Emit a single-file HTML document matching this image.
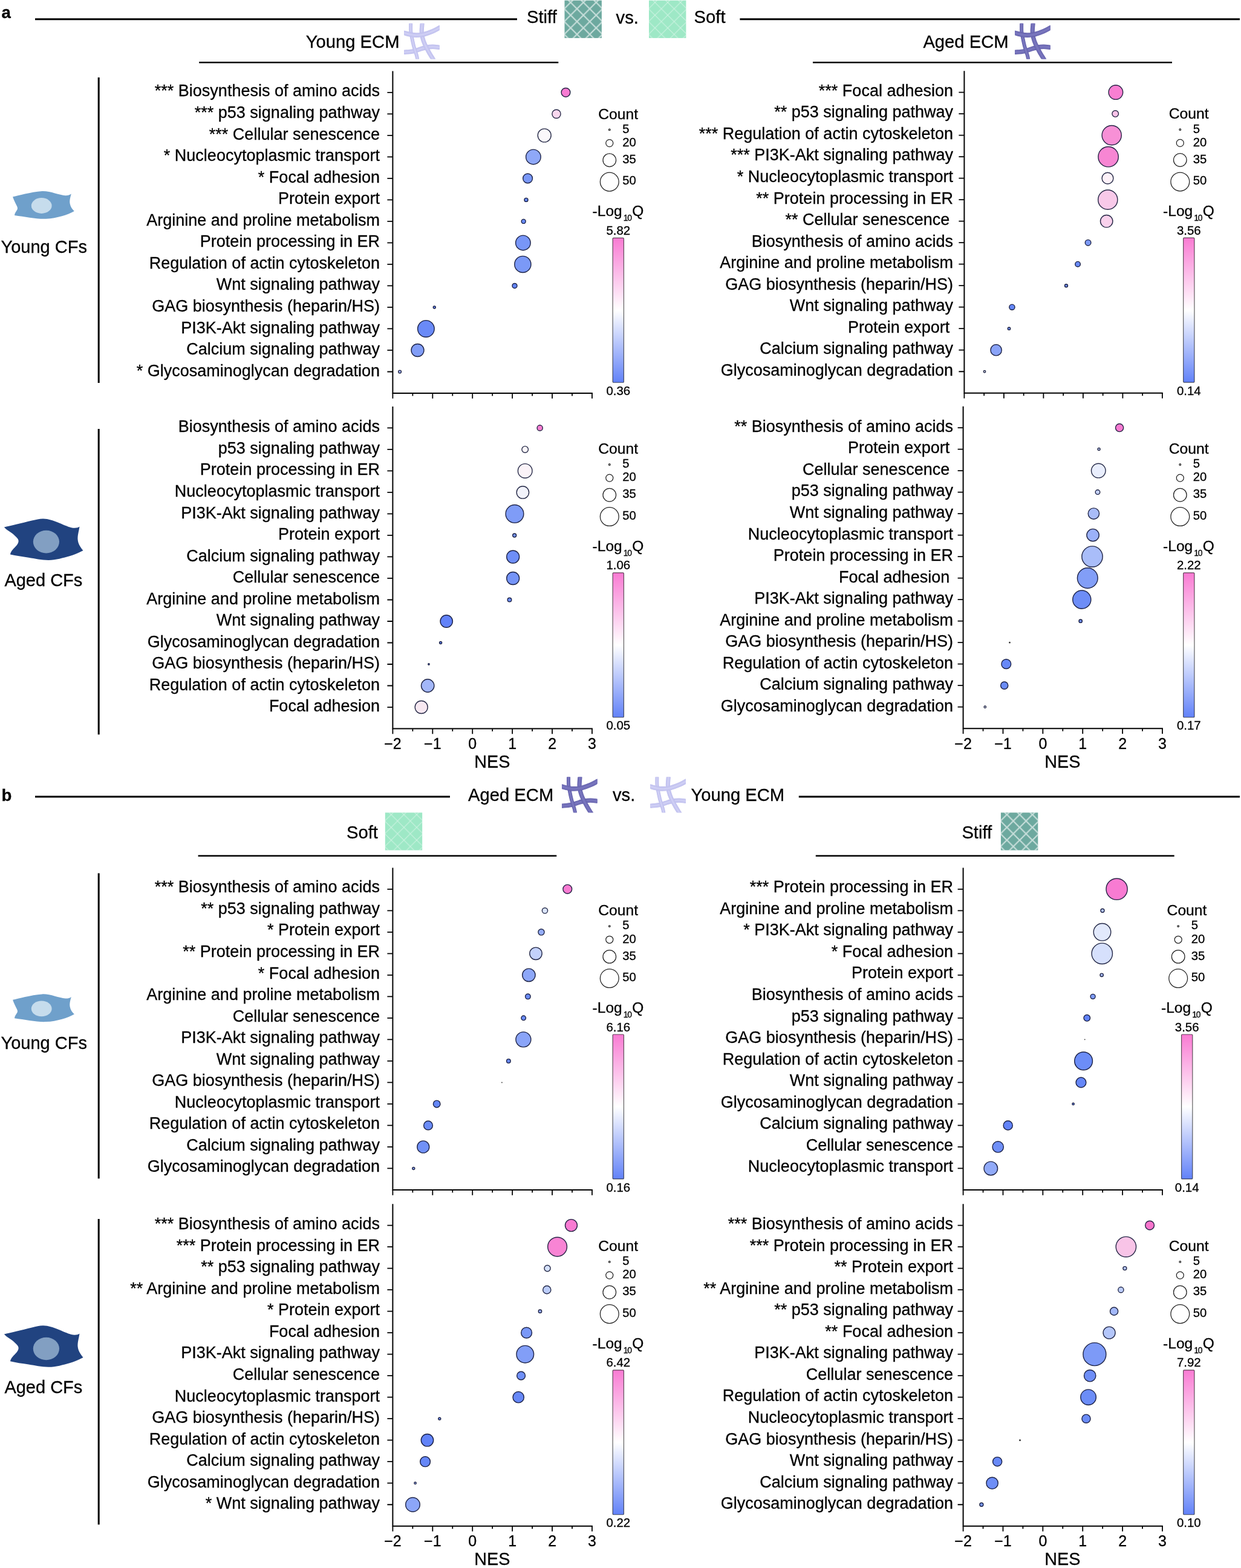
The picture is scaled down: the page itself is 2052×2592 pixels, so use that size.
<!DOCTYPE html>
<html lang="en"><head><meta charset="utf-8"><title>KEGG pathway enrichment bubble plots</title>
<style>html,body{margin:0;padding:0;background:#fff}body{width:2052px;height:2592px;overflow:hidden}svg{display:block}text{font-family:"Liberation Sans", Arial, Helvetica, sans-serif;fill:#000;stroke:#000;stroke-width:0.3px}</style></head><body>
<svg xmlns="http://www.w3.org/2000/svg" width="2052" height="2592" viewBox="0 0 2052 2592">
<defs>
<linearGradient id="cb" x1="0" y1="0" x2="0" y2="1"><stop offset="0" stop-color="#f97bd3"/><stop offset="0.5" stop-color="#ffffff"/><stop offset="1" stop-color="#6282f8"/></linearGradient>
<pattern id="hstiff" width="21.1" height="21.1" patternUnits="userSpaceOnUse" patternTransform="translate(10 3.3)"><path d="M21.1 0L0 21.1M-1 1L1 -1M20.1 22.1L22.1 20.1M0 0L21.1 21.1M-1 20.1L1 22.1M20.1 -1L22.1 1" stroke="#fff" stroke-opacity="0.62" stroke-width="2.2" fill="none"/></pattern>
<pattern id="hsoft" width="21.1" height="21.1" patternUnits="userSpaceOnUse" patternTransform="translate(10 3.3)"><path d="M21.1 0L0 21.1M-1 1L1 -1M20.1 22.1L22.1 20.1M0 0L21.1 21.1M-1 20.1L1 22.1M20.1 -1L22.1 1" stroke="#fff" stroke-opacity="0.5" stroke-width="1.0" fill="none"/></pattern>
</defs>
<rect width="2052" height="2592" fill="#fff"/>
<g id="section-a">
<text x="2.4" y="30.4" font-size="27.6" font-weight="bold" stroke="none">a</text>
<g stroke="#000">
<line x1="58" y1="31.75" x2="855" y2="31.75" stroke-width="3.2"/>
<line x1="1223.4" y1="31.75" x2="2050" y2="31.75" stroke-width="3.2"/>
<line x1="329.2" y1="103.3" x2="923.3" y2="103.3" stroke-width="2.6"/>
<line x1="1344" y1="103.3" x2="1938" y2="103.3" stroke-width="2.6"/>
<line x1="163.2" y1="128" x2="163.2" y2="633" stroke-width="3"/>
<line x1="163.2" y1="709.1" x2="163.2" y2="1214.3" stroke-width="3"/>
</g>
<text x="871" y="38.4" font-size="29.2">Stiff</text>
<g transform="translate(933.5 0.7)"><rect width="61.4" height="62.2" fill="#6da99f"/><rect width="61.4" height="62.2" fill="url(#hstiff)"/></g>
<text x="1018.6" y="38.9" font-size="29.2">vs.</text>
<g transform="translate(1073 0.7)"><rect width="61.4" height="62.2" fill="#9ee8c6"/><rect width="61.4" height="62.2" fill="url(#hsoft)"/></g>
<text x="1147.6" y="38.4" font-size="29.2">Soft</text>
<text x="505.8" y="79.4" font-size="29.2">Young ECM</text>
<g transform="translate(0 0)" fill="none">
<clipPath id="ec1"><rect x="668.1" y="38.7" width="58.6" height="58.7"/></clipPath>
<g clip-path="url(#ec1)">
<path d="M664.12 86.7C664.78 86.63 664.94 86.62 668.1 86.3C671.26 85.98 678.25 85.78 683.1 84.8C687.95 83.82 693.3 81.53 697.2 80.4C701.1 79.27 703.38 78.52 706.5 78C709.62 77.48 712.53 77.25 715.9 77.3C719.27 77.35 724.24 78.07 726.7 78.3C729.16 78.53 730.02 78.61 730.68 78.67" stroke="#bdbdec" stroke-width="7.4"/>
<path d="M664.12 86.7C664.78 86.63 664.94 86.62 668.1 86.3C671.26 85.98 678.25 85.78 683.1 84.8C687.95 83.82 693.3 81.53 697.2 80.4C701.1 79.27 703.38 78.52 706.5 78C709.62 77.48 712.53 77.25 715.9 77.3C719.27 77.35 724.24 78.07 726.7 78.3C729.16 78.53 730.02 78.61 730.68 78.67" stroke="#c6c6f1" stroke-width="6.2"/>
<path d="M664.12 86.7C664.78 86.63 664.94 86.62 668.1 86.3C671.26 85.98 678.25 85.78 683.1 84.8C687.95 83.82 693.3 81.53 697.2 80.4C701.1 79.27 703.38 78.52 706.5 78C709.62 77.48 712.53 77.25 715.9 77.3C719.27 77.35 724.24 78.07 726.7 78.3C729.16 78.53 730.02 78.61 730.68 78.67" stroke="#d3d3f6" stroke-width="1.4"/>
<path d="M679.17 34.7C679.17 35.37 679.18 35.82 679.2 38.7C679.22 41.58 678.97 47.98 679.3 52C679.63 56.02 680.37 58.67 681.2 62.8C682.03 66.93 683.05 72.12 684.3 76.8C685.55 81.48 687.73 87.47 688.7 90.9C689.67 94.33 689.73 95.66 690.1 97.4C690.47 99.14 690.8 100.66 690.94 101.31" stroke="#bdbdec" stroke-width="6"/>
<path d="M679.17 34.7C679.17 35.37 679.18 35.82 679.2 38.7C679.22 41.58 678.97 47.98 679.3 52C679.63 56.02 680.37 58.67 681.2 62.8C682.03 66.93 683.05 72.12 684.3 76.8C685.55 81.48 687.73 87.47 688.7 90.9C689.67 94.33 689.73 95.66 690.1 97.4C690.47 99.14 690.8 100.66 690.94 101.31" stroke="#c6c6f1" stroke-width="4.8"/>
<path d="M679.17 34.7C679.17 35.37 679.18 35.82 679.2 38.7C679.22 41.58 678.97 47.98 679.3 52C679.63 56.02 680.37 58.67 681.2 62.8C682.03 66.93 683.05 72.12 684.3 76.8C685.55 81.48 687.73 87.47 688.7 90.9C689.67 94.33 689.73 95.66 690.1 97.4C690.47 99.14 690.8 100.66 690.94 101.31" stroke="#d3d3f6" stroke-width="1.4"/>
<path d="M698.36 34.71C698.32 35.37 698.29 35.73 698.1 38.7C697.91 41.67 697.08 48.48 697.2 52.5C697.32 56.52 697.92 59.33 698.8 62.8C699.68 66.27 700.78 69.4 702.5 73.3C704.22 77.2 706.87 82.18 709.1 86.2C711.33 90.22 714.42 94.96 715.9 97.4C717.38 99.84 717.63 100.25 717.98 100.82" stroke="#bdbdec" stroke-width="7.2"/>
<path d="M698.36 34.71C698.32 35.37 698.29 35.73 698.1 38.7C697.91 41.67 697.08 48.48 697.2 52.5C697.32 56.52 697.92 59.33 698.8 62.8C699.68 66.27 700.78 69.4 702.5 73.3C704.22 77.2 706.87 82.18 709.1 86.2C711.33 90.22 714.42 94.96 715.9 97.4C717.38 99.84 717.63 100.25 717.98 100.82" stroke="#c6c6f1" stroke-width="6"/>
<path d="M698.36 34.71C698.32 35.37 698.29 35.73 698.1 38.7C697.91 41.67 697.08 48.48 697.2 52.5C697.32 56.52 697.92 59.33 698.8 62.8C699.68 66.27 700.78 69.4 702.5 73.3C704.22 77.2 706.87 82.18 709.1 86.2C711.33 90.22 714.42 94.96 715.9 97.4C717.38 99.84 717.63 100.25 717.98 100.82" stroke="#d3d3f6" stroke-width="1.4"/>
<path d="M664.21 53.45C664.86 53.61 665.27 53.71 668.1 54.4C670.93 55.09 677.13 57 681.2 57.6C685.27 58.2 689.07 58.18 692.5 58C695.93 57.82 697.9 57.58 701.8 56.5C705.7 55.42 711.75 53.27 715.9 51.5C720.05 49.73 724.31 47.14 726.7 45.9C729.09 44.66 729.66 44.37 730.25 44.06" stroke="#bdbdec" stroke-width="7.6"/>
<path d="M664.21 53.45C664.86 53.61 665.27 53.71 668.1 54.4C670.93 55.09 677.13 57 681.2 57.6C685.27 58.2 689.07 58.18 692.5 58C695.93 57.82 697.9 57.58 701.8 56.5C705.7 55.42 711.75 53.27 715.9 51.5C720.05 49.73 724.31 47.14 726.7 45.9C729.09 44.66 729.66 44.37 730.25 44.06" stroke="#c6c6f1" stroke-width="6.4"/>
<path d="M664.21 53.45C664.86 53.61 665.27 53.71 668.1 54.4C670.93 55.09 677.13 57 681.2 57.6C685.27 58.2 689.07 58.18 692.5 58C695.93 57.82 697.9 57.58 701.8 56.5C705.7 55.42 711.75 53.27 715.9 51.5C720.05 49.73 724.31 47.14 726.7 45.9C729.09 44.66 729.66 44.37 730.25 44.06" stroke="#d3d3f6" stroke-width="1.4"/>
</g></g>
<text x="1526.4" y="79.4" font-size="29.2">Aged ECM</text>
<g transform="translate(1010 0)" fill="none">
<clipPath id="ec2"><rect x="668.1" y="38.7" width="58.6" height="58.7"/></clipPath>
<g clip-path="url(#ec2)">
<path d="M664.12 86.7C664.78 86.63 664.94 86.62 668.1 86.3C671.26 85.98 678.25 85.78 683.1 84.8C687.95 83.82 693.3 81.53 697.2 80.4C701.1 79.27 703.38 78.52 706.5 78C709.62 77.48 712.53 77.25 715.9 77.3C719.27 77.35 724.24 78.07 726.7 78.3C729.16 78.53 730.02 78.61 730.68 78.67" stroke="#5d5aa6" stroke-width="7.4"/>
<path d="M664.12 86.7C664.78 86.63 664.94 86.62 668.1 86.3C671.26 85.98 678.25 85.78 683.1 84.8C687.95 83.82 693.3 81.53 697.2 80.4C701.1 79.27 703.38 78.52 706.5 78C709.62 77.48 712.53 77.25 715.9 77.3C719.27 77.35 724.24 78.07 726.7 78.3C729.16 78.53 730.02 78.61 730.68 78.67" stroke="#716eb7" stroke-width="6.2"/>
<path d="M664.12 86.7C664.78 86.63 664.94 86.62 668.1 86.3C671.26 85.98 678.25 85.78 683.1 84.8C687.95 83.82 693.3 81.53 697.2 80.4C701.1 79.27 703.38 78.52 706.5 78C709.62 77.48 712.53 77.25 715.9 77.3C719.27 77.35 724.24 78.07 726.7 78.3C729.16 78.53 730.02 78.61 730.68 78.67" stroke="#7d7ac2" stroke-width="1.4"/>
<path d="M679.17 34.7C679.17 35.37 679.18 35.82 679.2 38.7C679.22 41.58 678.97 47.98 679.3 52C679.63 56.02 680.37 58.67 681.2 62.8C682.03 66.93 683.05 72.12 684.3 76.8C685.55 81.48 687.73 87.47 688.7 90.9C689.67 94.33 689.73 95.66 690.1 97.4C690.47 99.14 690.8 100.66 690.94 101.31" stroke="#5d5aa6" stroke-width="6"/>
<path d="M679.17 34.7C679.17 35.37 679.18 35.82 679.2 38.7C679.22 41.58 678.97 47.98 679.3 52C679.63 56.02 680.37 58.67 681.2 62.8C682.03 66.93 683.05 72.12 684.3 76.8C685.55 81.48 687.73 87.47 688.7 90.9C689.67 94.33 689.73 95.66 690.1 97.4C690.47 99.14 690.8 100.66 690.94 101.31" stroke="#716eb7" stroke-width="4.8"/>
<path d="M679.17 34.7C679.17 35.37 679.18 35.82 679.2 38.7C679.22 41.58 678.97 47.98 679.3 52C679.63 56.02 680.37 58.67 681.2 62.8C682.03 66.93 683.05 72.12 684.3 76.8C685.55 81.48 687.73 87.47 688.7 90.9C689.67 94.33 689.73 95.66 690.1 97.4C690.47 99.14 690.8 100.66 690.94 101.31" stroke="#7d7ac2" stroke-width="1.4"/>
<path d="M698.36 34.71C698.32 35.37 698.29 35.73 698.1 38.7C697.91 41.67 697.08 48.48 697.2 52.5C697.32 56.52 697.92 59.33 698.8 62.8C699.68 66.27 700.78 69.4 702.5 73.3C704.22 77.2 706.87 82.18 709.1 86.2C711.33 90.22 714.42 94.96 715.9 97.4C717.38 99.84 717.63 100.25 717.98 100.82" stroke="#5d5aa6" stroke-width="7.2"/>
<path d="M698.36 34.71C698.32 35.37 698.29 35.73 698.1 38.7C697.91 41.67 697.08 48.48 697.2 52.5C697.32 56.52 697.92 59.33 698.8 62.8C699.68 66.27 700.78 69.4 702.5 73.3C704.22 77.2 706.87 82.18 709.1 86.2C711.33 90.22 714.42 94.96 715.9 97.4C717.38 99.84 717.63 100.25 717.98 100.82" stroke="#716eb7" stroke-width="6"/>
<path d="M698.36 34.71C698.32 35.37 698.29 35.73 698.1 38.7C697.91 41.67 697.08 48.48 697.2 52.5C697.32 56.52 697.92 59.33 698.8 62.8C699.68 66.27 700.78 69.4 702.5 73.3C704.22 77.2 706.87 82.18 709.1 86.2C711.33 90.22 714.42 94.96 715.9 97.4C717.38 99.84 717.63 100.25 717.98 100.82" stroke="#7d7ac2" stroke-width="1.4"/>
<path d="M664.21 53.45C664.86 53.61 665.27 53.71 668.1 54.4C670.93 55.09 677.13 57 681.2 57.6C685.27 58.2 689.07 58.18 692.5 58C695.93 57.82 697.9 57.58 701.8 56.5C705.7 55.42 711.75 53.27 715.9 51.5C720.05 49.73 724.31 47.14 726.7 45.9C729.09 44.66 729.66 44.37 730.25 44.06" stroke="#5d5aa6" stroke-width="7.6"/>
<path d="M664.21 53.45C664.86 53.61 665.27 53.71 668.1 54.4C670.93 55.09 677.13 57 681.2 57.6C685.27 58.2 689.07 58.18 692.5 58C695.93 57.82 697.9 57.58 701.8 56.5C705.7 55.42 711.75 53.27 715.9 51.5C720.05 49.73 724.31 47.14 726.7 45.9C729.09 44.66 729.66 44.37 730.25 44.06" stroke="#716eb7" stroke-width="6.4"/>
<path d="M664.21 53.45C664.86 53.61 665.27 53.71 668.1 54.4C670.93 55.09 677.13 57 681.2 57.6C685.27 58.2 689.07 58.18 692.5 58C695.93 57.82 697.9 57.58 701.8 56.5C705.7 55.42 711.75 53.27 715.9 51.5C720.05 49.73 724.31 47.14 726.7 45.9C729.09 44.66 729.66 44.37 730.25 44.06" stroke="#7d7ac2" stroke-width="1.4"/>
</g></g>
<g transform="translate(0 0)"><path d="M21.1 325.3 C30 323.5 50 317.5 69.6 316 C82 315.2 98 322.5 108 323.2 C112 323.4 115.5 322.3 117.8 320.5 C116.4 326 114.6 331 115.7 337 C116.6 342 119.5 346 122.8 349 C112 355 95 360.8 75.9 361.7 C60 362.3 42 358.3 24 355.9 C24.2 352 26.8 349.5 28.5 346.4 C29.6 344 28.6 342 27.6 340 C25.4 335.5 22.6 330.5 21.1 325.3Z" fill="#6fa0cb"/><ellipse cx="68.7" cy="340" rx="16.9" ry="12.9" fill="#c6dcec"/></g>
<text x="1.5" y="418" font-size="29">Young CFs</text>
<g transform="translate(0 0)"><path d="M6.9 871.6 C16 869.5 36 864.8 52.7 860.6 C60 858.7 66 857.2 71.7 857.4 C80 857.6 88 860.5 94.8 863.2 C103 866.5 112 870.6 118 872.2 C123 873.4 128.5 873 131.5 870.6 C130.6 878 127.6 886 128.8 893.7 C129.8 900.5 134 905.6 137.5 910.1 C129 914.5 122 917.5 115.9 919 C104 922.3 92 926 80.1 925.9 C68 925.8 58 923.3 47.4 921.7 C37 920.1 26 918.6 16.9 916.4 C17.4 913.5 19 910.8 21.1 908.5 C25 904.2 30.2 900 30.6 894.8 C30.9 890.8 26.5 887.5 23.2 884.3 C18.5 879.8 11 876.5 6.9 871.6Z" fill="#214380"/><ellipse cx="76.4" cy="895.6" rx="21.6" ry="18.8" fill="#829fc2"/></g>
<text x="7.4" y="968.8" font-size="29">Aged CFs</text>
</g>
<g id="panel1">
<g stroke="#000" fill="none" stroke-linecap="butt">
<path d="M649.4 117.55V649.95H979.9" stroke-width="2"/>
<path d="M649.4 152.85h-9.0M649.4 188.36h-9.0M649.4 223.87h-9.0M649.4 259.38h-9.0M649.4 294.89h-9.0M649.4 330.4h-9.0M649.4 365.91h-9.0M649.4 401.42h-9.0M649.4 436.93h-9.0M649.4 472.44h-9.0M649.4 507.95h-9.0M649.4 543.46h-9.0M649.4 578.97h-9.0M649.4 614.48h-9.0M649.4 649.95v8.8M715.32 649.95v8.8M781.24 649.95v8.8M847.16 649.95v8.8M913.08 649.95v8.8M979 649.95v8.8M682.36 649.95v4.6M748.28 649.95v4.6M814.2 649.95v4.6M880.12 649.95v4.6M946.04 649.95v4.6" stroke-width="1.8"/>
</g>
<g font-size="27" text-anchor="end">
<text x="628" y="159.45">*** Biosynthesis of amino acids</text>
<text x="628" y="195">*** p53 signaling pathway</text>
<text x="628" y="230.55">*** Cellular senescence</text>
<text x="628" y="266.1">* Nucleocytoplasmic transport</text>
<text x="628" y="301.65">* Focal adhesion</text>
<text x="628" y="337.2">Protein export</text>
<text x="628" y="372.75">Arginine and proline metabolism</text>
<text x="628" y="408.3">Protein processing in ER</text>
<text x="628" y="443.85">Regulation of actin cytoskeleton</text>
<text x="628" y="479.4">Wnt signaling pathway</text>
<text x="628" y="514.95">GAG biosynthesis (heparin/HS)</text>
<text x="628" y="550.5">PI3K-Akt signaling pathway</text>
<text x="628" y="586.05">Calcium signaling pathway</text>
<text x="628" y="621.6">* Glycosaminoglycan degradation</text>
</g>
<g stroke="#04082a" stroke-opacity="0.86" stroke-width="1.4">
<circle cx="935.5" cy="152.85" r="7.4" fill="#f87bd2"/>
<circle cx="920" cy="188.36" r="7.1" fill="#f9d7ee"/>
<circle cx="900.2" cy="223.87" r="11" fill="#fbf8fb"/>
<circle cx="881.9" cy="259.38" r="12.3" fill="#8fa8f8"/>
<circle cx="872.6" cy="294.89" r="7.9" fill="#7a98f7"/>
<circle cx="870" cy="330.4" r="3" fill="#6a8cf7"/>
<circle cx="865.7" cy="365.91" r="3.5" fill="#6a8cf7"/>
<circle cx="864.9" cy="401.42" r="12.3" fill="#7896f7"/>
<circle cx="864.4" cy="436.93" r="13.6" fill="#7b99f7"/>
<circle cx="851" cy="472.44" r="4" fill="#6485f7"/>
<circle cx="718.3" cy="507.95" r="2" fill="#6a8cf7"/>
<circle cx="704.4" cy="543.46" r="13.8" fill="#6a8af7"/>
<circle cx="690.5" cy="578.97" r="10.5" fill="#819df7"/>
<circle cx="661.1" cy="614.48" r="2.4" fill="#a9bbf9"/>
</g>
<text x="1022.1" y="196.6" font-size="24.7" text-anchor="middle">Count</text>
<g fill="#fff" stroke="#222" stroke-width="1.25">
<circle cx="1007.8" cy="214.4" r="1.35"/>
<circle cx="1007.8" cy="236.6" r="6"/>
<circle cx="1007.8" cy="264.7" r="10.8"/>
<circle cx="1007.8" cy="300.6" r="15.4"/>
</g>
<g font-size="20.3">
<text x="1029.3" y="219.7">5</text>
<text x="1029.3" y="241.9">20</text>
<text x="1029.3" y="269.9">35</text>
<text x="1029.3" y="305.3">50</text>
</g>
<text x="979.6" y="357.4" font-size="24.5">-Log<tspan font-size="14" dx="2.2" dy="7.8" letter-spacing="-1.3">10</tspan><tspan dx="1.5" dy="-7.8">Q</tspan></text>
<text x="1022.3" y="387.8" font-size="20.45" text-anchor="middle">5.82</text>
<rect x="1013.15" y="393.3" width="18.3" height="238.95" rx="1.3" fill="url(#cb)" stroke="#000" stroke-opacity="0.62" stroke-width="1.2"/>
<text x="1022.3" y="652.8" font-size="20.45" text-anchor="middle">0.36</text>
</g>
<g id="panel2">
<g stroke="#000" fill="none" stroke-linecap="butt">
<path d="M1594.4 117.3V649.7H1922.8" stroke-width="2"/>
<path d="M1594.4 152.6h-9.0M1594.4 188.11h-9.0M1594.4 223.62h-9.0M1594.4 259.13h-9.0M1594.4 294.64h-9.0M1594.4 330.15h-9.0M1594.4 365.66h-9.0M1594.4 401.17h-9.0M1594.4 436.68h-9.0M1594.4 472.19h-9.0M1594.4 507.7h-9.0M1594.4 543.21h-9.0M1594.4 578.72h-9.0M1594.4 614.23h-9.0M1594.4 649.7v8.8M1659.9 649.7v8.8M1725.4 649.7v8.8M1790.9 649.7v8.8M1856.4 649.7v8.8M1921.9 649.7v8.8M1627.15 649.7v4.6M1692.65 649.7v4.6M1758.15 649.7v4.6M1823.65 649.7v4.6M1889.15 649.7v4.6" stroke-width="1.8"/>
</g>
<g font-size="27" text-anchor="end">
<text x="1576" y="158.8">*** Focal adhesion</text>
<text x="1576" y="194.35">** p53 signaling pathway</text>
<text x="1576" y="229.9">*** Regulation of actin cytoskeleton</text>
<text x="1576" y="265.45">*** PI3K-Akt signaling pathway</text>
<text x="1576" y="301">* Nucleocytoplasmic transport</text>
<text x="1576" y="336.55">** Protein processing in ER</text>
<text x="1570.2" y="372.1">** Cellular senescence</text>
<text x="1576" y="407.65">Biosynthesis of amino acids</text>
<text x="1576" y="443.2">Arginine and proline metabolism</text>
<text x="1576" y="478.75">GAG biosynthesis (heparin/HS)</text>
<text x="1576" y="514.3">Wnt signaling pathway</text>
<text x="1570.2" y="549.85">Protein export</text>
<text x="1576" y="585.4">Calcium signaling pathway</text>
<text x="1576" y="620.95">Glycosaminoglycan degradation</text>
</g>
<g stroke="#04082a" stroke-opacity="0.86" stroke-width="1.4">
<circle cx="1844.9" cy="152.6" r="11.8" fill="#f87fd2"/>
<circle cx="1844.2" cy="188.11" r="5.3" fill="#f9c2e7"/>
<circle cx="1838.2" cy="223.62" r="16.1" fill="#f790d6"/>
<circle cx="1832.6" cy="259.13" r="16.7" fill="#f786d3"/>
<circle cx="1831.5" cy="294.64" r="9.4" fill="#fdf1f8"/>
<circle cx="1831.8" cy="330.15" r="16.1" fill="#f8c9e9"/>
<circle cx="1829.7" cy="365.66" r="10.2" fill="#f9d1ec"/>
<circle cx="1799.1" cy="401.17" r="4.8" fill="#7d9af7"/>
<circle cx="1782.1" cy="436.68" r="4.3" fill="#6a8bf7"/>
<circle cx="1763" cy="472.19" r="2.5" fill="#7795f7"/>
<circle cx="1673.4" cy="507.7" r="4.6" fill="#6587f7"/>
<circle cx="1668.5" cy="543.21" r="2.2" fill="#7c99f7"/>
<circle cx="1647.1" cy="578.72" r="9.2" fill="#8aa3f8"/>
<circle cx="1628" cy="614.23" r="1.7" fill="#e9eefd"/>
</g>
<text x="1965.6" y="196.4" font-size="24.7" text-anchor="middle">Count</text>
<g fill="#fff" stroke="#222" stroke-width="1.25">
<circle cx="1951.3" cy="214.2" r="1.35"/>
<circle cx="1951.3" cy="236.4" r="6"/>
<circle cx="1951.3" cy="264.5" r="10.8"/>
<circle cx="1951.3" cy="300.4" r="15.4"/>
</g>
<g font-size="20.3">
<text x="1972.8" y="219.5">5</text>
<text x="1972.8" y="241.7">20</text>
<text x="1972.8" y="269.7">35</text>
<text x="1972.8" y="305.1">50</text>
</g>
<text x="1923.1" y="357.2" font-size="24.5">-Log<tspan font-size="14" dx="2.2" dy="7.8" letter-spacing="-1.3">10</tspan><tspan dx="1.5" dy="-7.8">Q</tspan></text>
<text x="1965.8" y="387.6" font-size="20.45" text-anchor="middle">3.56</text>
<rect x="1956.65" y="393.1" width="18.3" height="238.95" rx="1.3" fill="url(#cb)" stroke="#000" stroke-opacity="0.62" stroke-width="1.2"/>
<text x="1965.8" y="652.6" font-size="20.45" text-anchor="middle">0.14</text>
</g>
<g id="panel3">
<g stroke="#000" fill="none" stroke-linecap="butt">
<path d="M649.4 672.1V1204.5H979.9" stroke-width="2"/>
<path d="M649.4 707.4h-9.0M649.4 742.91h-9.0M649.4 778.42h-9.0M649.4 813.93h-9.0M649.4 849.44h-9.0M649.4 884.95h-9.0M649.4 920.46h-9.0M649.4 955.97h-9.0M649.4 991.48h-9.0M649.4 1026.99h-9.0M649.4 1062.5h-9.0M649.4 1098.01h-9.0M649.4 1133.52h-9.0M649.4 1169.03h-9.0M649.4 1204.5v8.8M715.32 1204.5v8.8M781.24 1204.5v8.8M847.16 1204.5v8.8M913.08 1204.5v8.8M979 1204.5v8.8M682.36 1204.5v4.6M748.28 1204.5v4.6M814.2 1204.5v4.6M880.12 1204.5v4.6M946.04 1204.5v4.6" stroke-width="1.8"/>
</g>
<g font-size="27" text-anchor="end">
<text x="628" y="714.3">Biosynthesis of amino acids</text>
<text x="628" y="749.85">p53 signaling pathway</text>
<text x="628" y="785.4">Protein processing in ER</text>
<text x="628" y="820.95">Nucleocytoplasmic transport</text>
<text x="628" y="856.5">PI3K-Akt signaling pathway</text>
<text x="628" y="892.05">Protein export</text>
<text x="628" y="927.6">Calcium signaling pathway</text>
<text x="628" y="963.15">Cellular senescence</text>
<text x="628" y="998.7">Arginine and proline metabolism</text>
<text x="628" y="1034.25">Wnt signaling pathway</text>
<text x="628" y="1069.8">Glycosaminoglycan degradation</text>
<text x="628" y="1105.35">GAG biosynthesis (heparin/HS)</text>
<text x="628" y="1140.9">Regulation of actin cytoskeleton</text>
<text x="628" y="1176.45">Focal adhesion</text>
</g>
<g stroke="#04082a" stroke-opacity="0.86" stroke-width="1.4">
<circle cx="892.7" cy="707.4" r="4.6" fill="#f87fd2"/>
<circle cx="868.2" cy="742.91" r="5.3" fill="#fcf7fa"/>
<circle cx="868.2" cy="778.42" r="11.8" fill="#fbf3f8"/>
<circle cx="864.4" cy="813.93" r="10.2" fill="#f2f3fb"/>
<circle cx="851" cy="849.44" r="14.9" fill="#7f9cf7"/>
<circle cx="850.7" cy="884.95" r="3" fill="#7896f7"/>
<circle cx="848.2" cy="920.46" r="10.5" fill="#6e8ef7"/>
<circle cx="848.2" cy="955.97" r="10.5" fill="#7594f7"/>
<circle cx="842.5" cy="991.48" r="3.3" fill="#6e8ef7"/>
<circle cx="738.2" cy="1026.99" r="10.2" fill="#6282f8"/>
<circle cx="728.6" cy="1062.5" r="2" fill="#6a8bf7"/>
<circle cx="709" cy="1098.01" r="1.2" fill="#7a98f7"/>
<circle cx="707.2" cy="1133.52" r="10.7" fill="#a3b7f9"/>
<circle cx="696.7" cy="1169.03" r="10.5" fill="#f7e8f1"/>
</g>
<text x="1022.1" y="750.1" font-size="24.7" text-anchor="middle">Count</text>
<g fill="#fff" stroke="#222" stroke-width="1.25">
<circle cx="1007.8" cy="767.9" r="1.35"/>
<circle cx="1007.8" cy="790.1" r="6"/>
<circle cx="1007.8" cy="818.2" r="10.8"/>
<circle cx="1007.8" cy="854.1" r="15.4"/>
</g>
<g font-size="20.3">
<text x="1029.3" y="773.2">5</text>
<text x="1029.3" y="795.4">20</text>
<text x="1029.3" y="823.4">35</text>
<text x="1029.3" y="858.8">50</text>
</g>
<text x="979.6" y="910.9" font-size="24.5">-Log<tspan font-size="14" dx="2.2" dy="7.8" letter-spacing="-1.3">10</tspan><tspan dx="1.5" dy="-7.8">Q</tspan></text>
<text x="1022.3" y="941.3" font-size="20.45" text-anchor="middle">1.06</text>
<rect x="1013.15" y="946.8" width="18.3" height="238.95" rx="1.3" fill="url(#cb)" stroke="#000" stroke-opacity="0.62" stroke-width="1.2"/>
<text x="1022.3" y="1206.3" font-size="20.45" text-anchor="middle">0.05</text>
<g font-size="25" text-anchor="middle">
<text x="649.4" y="1238.2">−2</text>
<text x="715.32" y="1238.2">−1</text>
<text x="781.24" y="1238.2">0</text>
<text x="847.16" y="1238.2">1</text>
<text x="913.08" y="1238.2">2</text>
<text x="979" y="1238.2">3</text>
</g>
<text x="813.8" y="1269" font-size="28.8" text-anchor="middle">NES</text>
</g>
<g id="panel4">
<g stroke="#000" fill="none" stroke-linecap="butt">
<path d="M1592.6 671.75V1204.15H1922.9" stroke-width="2"/>
<path d="M1592.6 707.05h-9.0M1592.6 742.56h-9.0M1592.6 778.07h-9.0M1592.6 813.58h-9.0M1592.6 849.09h-9.0M1592.6 884.6h-9.0M1592.6 920.11h-9.0M1592.6 955.62h-9.0M1592.6 991.13h-9.0M1592.6 1026.64h-9.0M1592.6 1062.15h-9.0M1592.6 1097.66h-9.0M1592.6 1133.17h-9.0M1592.6 1168.68h-9.0M1592.6 1204.15v8.8M1658.48 1204.15v8.8M1724.36 1204.15v8.8M1790.24 1204.15v8.8M1856.12 1204.15v8.8M1922 1204.15v8.8M1625.54 1204.15v4.6M1691.42 1204.15v4.6M1757.3 1204.15v4.6M1823.18 1204.15v4.6M1889.06 1204.15v4.6" stroke-width="1.8"/>
</g>
<g font-size="27" text-anchor="end">
<text x="1576" y="713.75">** Biosynthesis of amino acids</text>
<text x="1570.2" y="749.3">Protein export</text>
<text x="1570.2" y="784.85">Cellular senescence</text>
<text x="1576" y="820.4">p53 signaling pathway</text>
<text x="1576" y="855.95">Wnt signaling pathway</text>
<text x="1576" y="891.5">Nucleocytoplasmic transport</text>
<text x="1576" y="927.05">Protein processing in ER</text>
<text x="1570.2" y="962.6">Focal adhesion</text>
<text x="1576" y="998.15">PI3K-Akt signaling pathway</text>
<text x="1576" y="1033.7">Arginine and proline metabolism</text>
<text x="1576" y="1069.25">GAG biosynthesis (heparin/HS)</text>
<text x="1576" y="1104.8">Regulation of actin cytoskeleton</text>
<text x="1576" y="1140.35">Calcium signaling pathway</text>
<text x="1576" y="1175.9">Glycosaminoglycan degradation</text>
</g>
<g stroke="#04082a" stroke-opacity="0.86" stroke-width="1.4">
<circle cx="1851.1" cy="707.05" r="6.6" fill="#f87bd2"/>
<circle cx="1817.1" cy="742.56" r="2" fill="#c9d5fb"/>
<circle cx="1816.3" cy="778.07" r="11.8" fill="#e9eefd"/>
<circle cx="1815" cy="813.58" r="3.8" fill="#c5d2fa"/>
<circle cx="1808.4" cy="849.09" r="9.2" fill="#a9bcf9"/>
<circle cx="1807.1" cy="884.6" r="10.2" fill="#9bb1f9"/>
<circle cx="1806" cy="920.11" r="17.2" fill="#a9bdf9"/>
<circle cx="1798.3" cy="955.62" r="16.9" fill="#829ef7"/>
<circle cx="1788.8" cy="991.13" r="15.1" fill="#6d8df7"/>
<circle cx="1786.7" cy="1026.64" r="2.7" fill="#7492f7"/>
<circle cx="1669.5" cy="1062.15" r="1.3" fill="#333333" stroke="none"/>
<circle cx="1663.8" cy="1097.66" r="7.9" fill="#6788f7"/>
<circle cx="1660.7" cy="1133.17" r="6.1" fill="#6c8df7"/>
<circle cx="1628.8" cy="1168.68" r="1.7" fill="#e9eefd"/>
</g>
<text x="1965.6" y="750.1" font-size="24.7" text-anchor="middle">Count</text>
<g fill="#fff" stroke="#222" stroke-width="1.25">
<circle cx="1951.3" cy="767.9" r="1.35"/>
<circle cx="1951.3" cy="790.1" r="6"/>
<circle cx="1951.3" cy="818.2" r="10.8"/>
<circle cx="1951.3" cy="854.1" r="15.4"/>
</g>
<g font-size="20.3">
<text x="1972.8" y="773.2">5</text>
<text x="1972.8" y="795.4">20</text>
<text x="1972.8" y="823.4">35</text>
<text x="1972.8" y="858.8">50</text>
</g>
<text x="1923.1" y="910.9" font-size="24.5">-Log<tspan font-size="14" dx="2.2" dy="7.8" letter-spacing="-1.3">10</tspan><tspan dx="1.5" dy="-7.8">Q</tspan></text>
<text x="1965.8" y="941.3" font-size="20.45" text-anchor="middle">2.22</text>
<rect x="1956.65" y="946.8" width="18.3" height="238.95" rx="1.3" fill="url(#cb)" stroke="#000" stroke-opacity="0.62" stroke-width="1.2"/>
<text x="1965.8" y="1206.3" font-size="20.45" text-anchor="middle">0.17</text>
<g font-size="25" text-anchor="middle">
<text x="1592.6" y="1237.85">−2</text>
<text x="1658.48" y="1237.85">−1</text>
<text x="1724.36" y="1237.85">0</text>
<text x="1790.24" y="1237.85">1</text>
<text x="1856.12" y="1237.85">2</text>
<text x="1922" y="1237.85">3</text>
</g>
<text x="1756.9" y="1268.65" font-size="28.8" text-anchor="middle">NES</text>
</g>
<g id="section-b">
<text x="2.4" y="1324" font-size="27.6" font-weight="bold" stroke="none">b</text>
<g stroke="#000">
<line x1="58" y1="1317" x2="744" y2="1317" stroke-width="3.2"/>
<line x1="1320.8" y1="1317" x2="2050" y2="1317" stroke-width="3.2"/>
<line x1="327.6" y1="1414.8" x2="920.3" y2="1414.8" stroke-width="2.6"/>
<line x1="1348.8" y1="1414.8" x2="1941.7" y2="1414.8" stroke-width="2.6"/>
<line x1="163.2" y1="1443.6" x2="163.2" y2="1948.2" stroke-width="3"/>
<line x1="163.2" y1="2015.1" x2="163.2" y2="2520.2" stroke-width="3"/>
</g>
<text x="774.1" y="1324" font-size="29.2">Aged ECM</text>
<g transform="translate(260.9 1245.8)" fill="none">
<clipPath id="ec3"><rect x="668.1" y="38.7" width="58.6" height="58.7"/></clipPath>
<g clip-path="url(#ec3)">
<path d="M664.12 86.7C664.78 86.63 664.94 86.62 668.1 86.3C671.26 85.98 678.25 85.78 683.1 84.8C687.95 83.82 693.3 81.53 697.2 80.4C701.1 79.27 703.38 78.52 706.5 78C709.62 77.48 712.53 77.25 715.9 77.3C719.27 77.35 724.24 78.07 726.7 78.3C729.16 78.53 730.02 78.61 730.68 78.67" stroke="#5d5aa6" stroke-width="7.4"/>
<path d="M664.12 86.7C664.78 86.63 664.94 86.62 668.1 86.3C671.26 85.98 678.25 85.78 683.1 84.8C687.95 83.82 693.3 81.53 697.2 80.4C701.1 79.27 703.38 78.52 706.5 78C709.62 77.48 712.53 77.25 715.9 77.3C719.27 77.35 724.24 78.07 726.7 78.3C729.16 78.53 730.02 78.61 730.68 78.67" stroke="#716eb7" stroke-width="6.2"/>
<path d="M664.12 86.7C664.78 86.63 664.94 86.62 668.1 86.3C671.26 85.98 678.25 85.78 683.1 84.8C687.95 83.82 693.3 81.53 697.2 80.4C701.1 79.27 703.38 78.52 706.5 78C709.62 77.48 712.53 77.25 715.9 77.3C719.27 77.35 724.24 78.07 726.7 78.3C729.16 78.53 730.02 78.61 730.68 78.67" stroke="#7d7ac2" stroke-width="1.4"/>
<path d="M679.17 34.7C679.17 35.37 679.18 35.82 679.2 38.7C679.22 41.58 678.97 47.98 679.3 52C679.63 56.02 680.37 58.67 681.2 62.8C682.03 66.93 683.05 72.12 684.3 76.8C685.55 81.48 687.73 87.47 688.7 90.9C689.67 94.33 689.73 95.66 690.1 97.4C690.47 99.14 690.8 100.66 690.94 101.31" stroke="#5d5aa6" stroke-width="6"/>
<path d="M679.17 34.7C679.17 35.37 679.18 35.82 679.2 38.7C679.22 41.58 678.97 47.98 679.3 52C679.63 56.02 680.37 58.67 681.2 62.8C682.03 66.93 683.05 72.12 684.3 76.8C685.55 81.48 687.73 87.47 688.7 90.9C689.67 94.33 689.73 95.66 690.1 97.4C690.47 99.14 690.8 100.66 690.94 101.31" stroke="#716eb7" stroke-width="4.8"/>
<path d="M679.17 34.7C679.17 35.37 679.18 35.82 679.2 38.7C679.22 41.58 678.97 47.98 679.3 52C679.63 56.02 680.37 58.67 681.2 62.8C682.03 66.93 683.05 72.12 684.3 76.8C685.55 81.48 687.73 87.47 688.7 90.9C689.67 94.33 689.73 95.66 690.1 97.4C690.47 99.14 690.8 100.66 690.94 101.31" stroke="#7d7ac2" stroke-width="1.4"/>
<path d="M698.36 34.71C698.32 35.37 698.29 35.73 698.1 38.7C697.91 41.67 697.08 48.48 697.2 52.5C697.32 56.52 697.92 59.33 698.8 62.8C699.68 66.27 700.78 69.4 702.5 73.3C704.22 77.2 706.87 82.18 709.1 86.2C711.33 90.22 714.42 94.96 715.9 97.4C717.38 99.84 717.63 100.25 717.98 100.82" stroke="#5d5aa6" stroke-width="7.2"/>
<path d="M698.36 34.71C698.32 35.37 698.29 35.73 698.1 38.7C697.91 41.67 697.08 48.48 697.2 52.5C697.32 56.52 697.92 59.33 698.8 62.8C699.68 66.27 700.78 69.4 702.5 73.3C704.22 77.2 706.87 82.18 709.1 86.2C711.33 90.22 714.42 94.96 715.9 97.4C717.38 99.84 717.63 100.25 717.98 100.82" stroke="#716eb7" stroke-width="6"/>
<path d="M698.36 34.71C698.32 35.37 698.29 35.73 698.1 38.7C697.91 41.67 697.08 48.48 697.2 52.5C697.32 56.52 697.92 59.33 698.8 62.8C699.68 66.27 700.78 69.4 702.5 73.3C704.22 77.2 706.87 82.18 709.1 86.2C711.33 90.22 714.42 94.96 715.9 97.4C717.38 99.84 717.63 100.25 717.98 100.82" stroke="#7d7ac2" stroke-width="1.4"/>
<path d="M664.21 53.45C664.86 53.61 665.27 53.71 668.1 54.4C670.93 55.09 677.13 57 681.2 57.6C685.27 58.2 689.07 58.18 692.5 58C695.93 57.82 697.9 57.58 701.8 56.5C705.7 55.42 711.75 53.27 715.9 51.5C720.05 49.73 724.31 47.14 726.7 45.9C729.09 44.66 729.66 44.37 730.25 44.06" stroke="#5d5aa6" stroke-width="7.6"/>
<path d="M664.21 53.45C664.86 53.61 665.27 53.71 668.1 54.4C670.93 55.09 677.13 57 681.2 57.6C685.27 58.2 689.07 58.18 692.5 58C695.93 57.82 697.9 57.58 701.8 56.5C705.7 55.42 711.75 53.27 715.9 51.5C720.05 49.73 724.31 47.14 726.7 45.9C729.09 44.66 729.66 44.37 730.25 44.06" stroke="#716eb7" stroke-width="6.4"/>
<path d="M664.21 53.45C664.86 53.61 665.27 53.71 668.1 54.4C670.93 55.09 677.13 57 681.2 57.6C685.27 58.2 689.07 58.18 692.5 58C695.93 57.82 697.9 57.58 701.8 56.5C705.7 55.42 711.75 53.27 715.9 51.5C720.05 49.73 724.31 47.14 726.7 45.9C729.09 44.66 729.66 44.37 730.25 44.06" stroke="#7d7ac2" stroke-width="1.4"/>
</g></g>
<text x="1013" y="1324.4" font-size="29.2">vs.</text>
<g transform="translate(407.2 1245.8)" fill="none">
<clipPath id="ec4"><rect x="668.1" y="38.7" width="58.6" height="58.7"/></clipPath>
<g clip-path="url(#ec4)">
<path d="M664.12 86.7C664.78 86.63 664.94 86.62 668.1 86.3C671.26 85.98 678.25 85.78 683.1 84.8C687.95 83.82 693.3 81.53 697.2 80.4C701.1 79.27 703.38 78.52 706.5 78C709.62 77.48 712.53 77.25 715.9 77.3C719.27 77.35 724.24 78.07 726.7 78.3C729.16 78.53 730.02 78.61 730.68 78.67" stroke="#bdbdec" stroke-width="7.4"/>
<path d="M664.12 86.7C664.78 86.63 664.94 86.62 668.1 86.3C671.26 85.98 678.25 85.78 683.1 84.8C687.95 83.82 693.3 81.53 697.2 80.4C701.1 79.27 703.38 78.52 706.5 78C709.62 77.48 712.53 77.25 715.9 77.3C719.27 77.35 724.24 78.07 726.7 78.3C729.16 78.53 730.02 78.61 730.68 78.67" stroke="#c6c6f1" stroke-width="6.2"/>
<path d="M664.12 86.7C664.78 86.63 664.94 86.62 668.1 86.3C671.26 85.98 678.25 85.78 683.1 84.8C687.95 83.82 693.3 81.53 697.2 80.4C701.1 79.27 703.38 78.52 706.5 78C709.62 77.48 712.53 77.25 715.9 77.3C719.27 77.35 724.24 78.07 726.7 78.3C729.16 78.53 730.02 78.61 730.68 78.67" stroke="#d3d3f6" stroke-width="1.4"/>
<path d="M679.17 34.7C679.17 35.37 679.18 35.82 679.2 38.7C679.22 41.58 678.97 47.98 679.3 52C679.63 56.02 680.37 58.67 681.2 62.8C682.03 66.93 683.05 72.12 684.3 76.8C685.55 81.48 687.73 87.47 688.7 90.9C689.67 94.33 689.73 95.66 690.1 97.4C690.47 99.14 690.8 100.66 690.94 101.31" stroke="#bdbdec" stroke-width="6"/>
<path d="M679.17 34.7C679.17 35.37 679.18 35.82 679.2 38.7C679.22 41.58 678.97 47.98 679.3 52C679.63 56.02 680.37 58.67 681.2 62.8C682.03 66.93 683.05 72.12 684.3 76.8C685.55 81.48 687.73 87.47 688.7 90.9C689.67 94.33 689.73 95.66 690.1 97.4C690.47 99.14 690.8 100.66 690.94 101.31" stroke="#c6c6f1" stroke-width="4.8"/>
<path d="M679.17 34.7C679.17 35.37 679.18 35.82 679.2 38.7C679.22 41.58 678.97 47.98 679.3 52C679.63 56.02 680.37 58.67 681.2 62.8C682.03 66.93 683.05 72.12 684.3 76.8C685.55 81.48 687.73 87.47 688.7 90.9C689.67 94.33 689.73 95.66 690.1 97.4C690.47 99.14 690.8 100.66 690.94 101.31" stroke="#d3d3f6" stroke-width="1.4"/>
<path d="M698.36 34.71C698.32 35.37 698.29 35.73 698.1 38.7C697.91 41.67 697.08 48.48 697.2 52.5C697.32 56.52 697.92 59.33 698.8 62.8C699.68 66.27 700.78 69.4 702.5 73.3C704.22 77.2 706.87 82.18 709.1 86.2C711.33 90.22 714.42 94.96 715.9 97.4C717.38 99.84 717.63 100.25 717.98 100.82" stroke="#bdbdec" stroke-width="7.2"/>
<path d="M698.36 34.71C698.32 35.37 698.29 35.73 698.1 38.7C697.91 41.67 697.08 48.48 697.2 52.5C697.32 56.52 697.92 59.33 698.8 62.8C699.68 66.27 700.78 69.4 702.5 73.3C704.22 77.2 706.87 82.18 709.1 86.2C711.33 90.22 714.42 94.96 715.9 97.4C717.38 99.84 717.63 100.25 717.98 100.82" stroke="#c6c6f1" stroke-width="6"/>
<path d="M698.36 34.71C698.32 35.37 698.29 35.73 698.1 38.7C697.91 41.67 697.08 48.48 697.2 52.5C697.32 56.52 697.92 59.33 698.8 62.8C699.68 66.27 700.78 69.4 702.5 73.3C704.22 77.2 706.87 82.18 709.1 86.2C711.33 90.22 714.42 94.96 715.9 97.4C717.38 99.84 717.63 100.25 717.98 100.82" stroke="#d3d3f6" stroke-width="1.4"/>
<path d="M664.21 53.45C664.86 53.61 665.27 53.71 668.1 54.4C670.93 55.09 677.13 57 681.2 57.6C685.27 58.2 689.07 58.18 692.5 58C695.93 57.82 697.9 57.58 701.8 56.5C705.7 55.42 711.75 53.27 715.9 51.5C720.05 49.73 724.31 47.14 726.7 45.9C729.09 44.66 729.66 44.37 730.25 44.06" stroke="#bdbdec" stroke-width="7.6"/>
<path d="M664.21 53.45C664.86 53.61 665.27 53.71 668.1 54.4C670.93 55.09 677.13 57 681.2 57.6C685.27 58.2 689.07 58.18 692.5 58C695.93 57.82 697.9 57.58 701.8 56.5C705.7 55.42 711.75 53.27 715.9 51.5C720.05 49.73 724.31 47.14 726.7 45.9C729.09 44.66 729.66 44.37 730.25 44.06" stroke="#c6c6f1" stroke-width="6.4"/>
<path d="M664.21 53.45C664.86 53.61 665.27 53.71 668.1 54.4C670.93 55.09 677.13 57 681.2 57.6C685.27 58.2 689.07 58.18 692.5 58C695.93 57.82 697.9 57.58 701.8 56.5C705.7 55.42 711.75 53.27 715.9 51.5C720.05 49.73 724.31 47.14 726.7 45.9C729.09 44.66 729.66 44.37 730.25 44.06" stroke="#d3d3f6" stroke-width="1.4"/>
</g></g>
<text x="1142.4" y="1324" font-size="29.2">Young ECM</text>
<text x="573" y="1386.1" font-size="29.2">Soft</text>
<g transform="translate(636.8 1343.3)"><rect width="61.4" height="62.2" fill="#9ee8c6"/><rect width="61.4" height="62.2" fill="url(#hsoft)"/></g>
<text x="1590.4" y="1386.1" font-size="29.2">Stiff</text>
<g transform="translate(1654.9 1343.3)"><rect width="61.4" height="62.2" fill="#6da99f"/><rect width="61.4" height="62.2" fill="url(#hstiff)"/></g>
<g transform="translate(0 1327.4)"><path d="M21.1 325.3 C30 323.5 50 317.5 69.6 316 C82 315.2 98 322.5 108 323.2 C112 323.4 115.5 322.3 117.8 320.5 C116.4 326 114.6 331 115.7 337 C116.6 342 119.5 346 122.8 349 C112 355 95 360.8 75.9 361.7 C60 362.3 42 358.3 24 355.9 C24.2 352 26.8 349.5 28.5 346.4 C29.6 344 28.6 342 27.6 340 C25.4 335.5 22.6 330.5 21.1 325.3Z" fill="#6fa0cb"/><ellipse cx="68.7" cy="340" rx="16.9" ry="12.9" fill="#c6dcec"/></g>
<text x="1.5" y="1733.5" font-size="29">Young CFs</text>
<g transform="translate(0 1333.9)"><path d="M6.9 871.6 C16 869.5 36 864.8 52.7 860.6 C60 858.7 66 857.2 71.7 857.4 C80 857.6 88 860.5 94.8 863.2 C103 866.5 112 870.6 118 872.2 C123 873.4 128.5 873 131.5 870.6 C130.6 878 127.6 886 128.8 893.7 C129.8 900.5 134 905.6 137.5 910.1 C129 914.5 122 917.5 115.9 919 C104 922.3 92 926 80.1 925.9 C68 925.8 58 923.3 47.4 921.7 C37 920.1 26 918.6 16.9 916.4 C17.4 913.5 19 910.8 21.1 908.5 C25 904.2 30.2 900 30.6 894.8 C30.9 890.8 26.5 887.5 23.2 884.3 C18.5 879.8 11 876.5 6.9 871.6Z" fill="#214380"/><ellipse cx="76.4" cy="895.6" rx="21.6" ry="18.8" fill="#829fc2"/></g>
<text x="7.4" y="2303.4" font-size="29">Aged CFs</text>
</g>
<g id="panel5">
<g stroke="#000" fill="none" stroke-linecap="butt">
<path d="M649.4 1434.5V1966.9H979.9" stroke-width="2"/>
<path d="M649.4 1469.8h-9.0M649.4 1505.31h-9.0M649.4 1540.82h-9.0M649.4 1576.33h-9.0M649.4 1611.84h-9.0M649.4 1647.35h-9.0M649.4 1682.86h-9.0M649.4 1718.37h-9.0M649.4 1753.88h-9.0M649.4 1789.39h-9.0M649.4 1824.9h-9.0M649.4 1860.41h-9.0M649.4 1895.92h-9.0M649.4 1931.43h-9.0M649.4 1966.9v8.8M715.32 1966.9v8.8M781.24 1966.9v8.8M847.16 1966.9v8.8M913.08 1966.9v8.8M979 1966.9v8.8M682.36 1966.9v4.6M748.28 1966.9v4.6M814.2 1966.9v4.6M880.12 1966.9v4.6M946.04 1966.9v4.6" stroke-width="1.8"/>
</g>
<g font-size="27" text-anchor="end">
<text x="628" y="1475.3">*** Biosynthesis of amino acids</text>
<text x="628" y="1510.85">** p53 signaling pathway</text>
<text x="628" y="1546.4">* Protein export</text>
<text x="628" y="1581.95">** Protein processing in ER</text>
<text x="628" y="1617.5">* Focal adhesion</text>
<text x="628" y="1653.05">Arginine and proline metabolism</text>
<text x="628" y="1688.6">Cellular senescence</text>
<text x="628" y="1724.15">PI3K-Akt signaling pathway</text>
<text x="628" y="1759.7">Wnt signaling pathway</text>
<text x="628" y="1795.25">GAG biosynthesis (heparin/HS)</text>
<text x="628" y="1830.8">Nucleocytoplasmic transport</text>
<text x="628" y="1866.35">Regulation of actin cytoskeleton</text>
<text x="628" y="1901.9">Calcium signaling pathway</text>
<text x="628" y="1937.45">Glycosaminoglycan degradation</text>
</g>
<g stroke="#04082a" stroke-opacity="0.86" stroke-width="1.4">
<circle cx="938.3" cy="1469.8" r="7.4" fill="#f87bd2"/>
<circle cx="901" cy="1505.31" r="4.6" fill="#dbe5fc"/>
<circle cx="895" cy="1540.82" r="5.1" fill="#95adf8"/>
<circle cx="886" cy="1576.33" r="10.2" fill="#c3d1fb"/>
<circle cx="874.4" cy="1611.84" r="10.7" fill="#8da7f8"/>
<circle cx="872.9" cy="1647.35" r="4.3" fill="#6b8cf7"/>
<circle cx="865.7" cy="1682.86" r="3.8" fill="#6b8cf7"/>
<circle cx="865.4" cy="1718.37" r="12.5" fill="#8aa4f8"/>
<circle cx="840.9" cy="1753.88" r="3.3" fill="#6a8bf7"/>
<circle cx="829.9" cy="1789.39" r="0.9" fill="#333333" stroke="none"/>
<circle cx="722.2" cy="1824.9" r="5.8" fill="#6487f7"/>
<circle cx="708" cy="1860.41" r="7.4" fill="#6b8cf7"/>
<circle cx="699.8" cy="1895.92" r="10" fill="#7191f7"/>
<circle cx="683.8" cy="1931.43" r="2" fill="#8ea8f8"/>
</g>
<text x="1022.1" y="1513.3" font-size="24.7" text-anchor="middle">Count</text>
<g fill="#fff" stroke="#222" stroke-width="1.25">
<circle cx="1007.8" cy="1531.1" r="1.35"/>
<circle cx="1007.8" cy="1553.3" r="6"/>
<circle cx="1007.8" cy="1581.4" r="10.8"/>
<circle cx="1007.8" cy="1617.3" r="15.4"/>
</g>
<g font-size="20.3">
<text x="1029.3" y="1536.4">5</text>
<text x="1029.3" y="1558.6">20</text>
<text x="1029.3" y="1586.6">35</text>
<text x="1029.3" y="1622">50</text>
</g>
<text x="979.6" y="1674.1" font-size="24.5">-Log<tspan font-size="14" dx="2.2" dy="7.8" letter-spacing="-1.3">10</tspan><tspan dx="1.5" dy="-7.8">Q</tspan></text>
<text x="1022.3" y="1704.5" font-size="20.45" text-anchor="middle">6.16</text>
<rect x="1013.15" y="1710" width="18.3" height="238.95" rx="1.3" fill="url(#cb)" stroke="#000" stroke-opacity="0.62" stroke-width="1.2"/>
<text x="1022.3" y="1969.5" font-size="20.45" text-anchor="middle">0.16</text>
</g>
<g id="panel6">
<g stroke="#000" fill="none" stroke-linecap="butt">
<path d="M1592.6 1434.5V1966.9H1922.9" stroke-width="2"/>
<path d="M1592.6 1469.8h-9.0M1592.6 1505.31h-9.0M1592.6 1540.82h-9.0M1592.6 1576.33h-9.0M1592.6 1611.84h-9.0M1592.6 1647.35h-9.0M1592.6 1682.86h-9.0M1592.6 1718.37h-9.0M1592.6 1753.88h-9.0M1592.6 1789.39h-9.0M1592.6 1824.9h-9.0M1592.6 1860.41h-9.0M1592.6 1895.92h-9.0M1592.6 1931.43h-9.0M1592.6 1966.9v8.8M1658.48 1966.9v8.8M1724.36 1966.9v8.8M1790.24 1966.9v8.8M1856.12 1966.9v8.8M1922 1966.9v8.8M1625.54 1966.9v4.6M1691.42 1966.9v4.6M1757.3 1966.9v4.6M1823.18 1966.9v4.6M1889.06 1966.9v4.6" stroke-width="1.8"/>
</g>
<g font-size="27" text-anchor="end">
<text x="1576" y="1475.2">*** Protein processing in ER</text>
<text x="1576" y="1510.75">Arginine and proline metabolism</text>
<text x="1576" y="1546.3">* PI3K-Akt signaling pathway</text>
<text x="1576" y="1581.85">* Focal adhesion</text>
<text x="1576" y="1617.4">Protein export</text>
<text x="1576" y="1652.95">Biosynthesis of amino acids</text>
<text x="1576" y="1688.5">p53 signaling pathway</text>
<text x="1576" y="1724.05">GAG biosynthesis (heparin/HS)</text>
<text x="1576" y="1759.6">Regulation of actin cytoskeleton</text>
<text x="1576" y="1795.15">Wnt signaling pathway</text>
<text x="1576" y="1830.7">Glycosaminoglycan degradation</text>
<text x="1576" y="1866.25">Calcium signaling pathway</text>
<text x="1576" y="1901.8">Cellular senescence</text>
<text x="1576" y="1937.35">Nucleocytoplasmic transport</text>
</g>
<g stroke="#04082a" stroke-opacity="0.86" stroke-width="1.4">
<circle cx="1846.6" cy="1469.8" r="17.6" fill="#f87bd2"/>
<circle cx="1823" cy="1505.31" r="3" fill="#b5c6fa"/>
<circle cx="1822.5" cy="1540.82" r="14.3" fill="#e2e9fc"/>
<circle cx="1822.3" cy="1576.33" r="17.2" fill="#d6e0fc"/>
<circle cx="1821.7" cy="1611.84" r="2.7" fill="#a9bcf9"/>
<circle cx="1807.1" cy="1647.35" r="4" fill="#7f9cf7"/>
<circle cx="1797.3" cy="1682.86" r="5.3" fill="#6283f8"/>
<circle cx="1793.7" cy="1718.37" r="0.9" fill="#333333" stroke="none"/>
<circle cx="1791.6" cy="1753.88" r="14.9" fill="#6c8df7"/>
<circle cx="1787.5" cy="1789.39" r="8.4" fill="#6687f7"/>
<circle cx="1774.6" cy="1824.9" r="1.7" fill="#7896f7"/>
<circle cx="1666.7" cy="1860.41" r="7.6" fill="#6283f8"/>
<circle cx="1650.2" cy="1895.92" r="9.2" fill="#6f8ff7"/>
<circle cx="1638.3" cy="1931.43" r="11.3" fill="#91aaf8"/>
</g>
<text x="1962.5" y="1513.3" font-size="24.7" text-anchor="middle">Count</text>
<g fill="#fff" stroke="#222" stroke-width="1.25">
<circle cx="1948.2" cy="1531.1" r="1.35"/>
<circle cx="1948.2" cy="1553.3" r="6"/>
<circle cx="1948.2" cy="1581.4" r="10.8"/>
<circle cx="1948.2" cy="1617.3" r="15.4"/>
</g>
<g font-size="20.3">
<text x="1969.7" y="1536.4">5</text>
<text x="1969.7" y="1558.6">20</text>
<text x="1969.7" y="1586.6">35</text>
<text x="1969.7" y="1622">50</text>
</g>
<text x="1920" y="1674.1" font-size="24.5">-Log<tspan font-size="14" dx="2.2" dy="7.8" letter-spacing="-1.3">10</tspan><tspan dx="1.5" dy="-7.8">Q</tspan></text>
<text x="1962.7" y="1704.5" font-size="20.45" text-anchor="middle">3.56</text>
<rect x="1953.55" y="1710" width="18.3" height="238.95" rx="1.3" fill="url(#cb)" stroke="#000" stroke-opacity="0.62" stroke-width="1.2"/>
<text x="1962.7" y="1969.5" font-size="20.45" text-anchor="middle">0.14</text>
</g>
<g id="panel7">
<g stroke="#000" fill="none" stroke-linecap="butt">
<path d="M649.4 1990.3V2522.7H979.9" stroke-width="2"/>
<path d="M649.4 2025.6h-9.0M649.4 2061.11h-9.0M649.4 2096.62h-9.0M649.4 2132.13h-9.0M649.4 2167.64h-9.0M649.4 2203.15h-9.0M649.4 2238.66h-9.0M649.4 2274.17h-9.0M649.4 2309.68h-9.0M649.4 2345.19h-9.0M649.4 2380.7h-9.0M649.4 2416.21h-9.0M649.4 2451.72h-9.0M649.4 2487.23h-9.0M649.4 2522.7v8.8M715.32 2522.7v8.8M781.24 2522.7v8.8M847.16 2522.7v8.8M913.08 2522.7v8.8M979 2522.7v8.8M682.36 2522.7v4.6M748.28 2522.7v4.6M814.2 2522.7v4.6M880.12 2522.7v4.6M946.04 2522.7v4.6" stroke-width="1.8"/>
</g>
<g font-size="27" text-anchor="end">
<text x="628" y="2032.1">*** Biosynthesis of amino acids</text>
<text x="628" y="2067.65">*** Protein processing in ER</text>
<text x="628" y="2103.2">** p53 signaling pathway</text>
<text x="628" y="2138.75">** Arginine and proline metabolism</text>
<text x="628" y="2174.3">* Protein export</text>
<text x="628" y="2209.85">Focal adhesion</text>
<text x="628" y="2245.4">PI3K-Akt signaling pathway</text>
<text x="628" y="2280.95">Cellular senescence</text>
<text x="628" y="2316.5">Nucleocytoplasmic transport</text>
<text x="628" y="2352.05">GAG biosynthesis (heparin/HS)</text>
<text x="628" y="2387.6">Regulation of actin cytoskeleton</text>
<text x="628" y="2423.15">Calcium signaling pathway</text>
<text x="628" y="2458.7">Glycosaminoglycan degradation</text>
<text x="628" y="2494.25">* Wnt signaling pathway</text>
</g>
<g stroke="#04082a" stroke-opacity="0.86" stroke-width="1.4">
<circle cx="944.5" cy="2025.6" r="10" fill="#f87bd2"/>
<circle cx="921.6" cy="2061.11" r="15.9" fill="#f884d4"/>
<circle cx="905.1" cy="2096.62" r="5.1" fill="#d5e1fc"/>
<circle cx="904.3" cy="2132.13" r="6.6" fill="#bccdfa"/>
<circle cx="893" cy="2167.64" r="2.7" fill="#9db3f9"/>
<circle cx="870.6" cy="2203.15" r="8.9" fill="#7a98f7"/>
<circle cx="868.3" cy="2238.66" r="14.3" fill="#829ef7"/>
<circle cx="861.6" cy="2274.17" r="6.9" fill="#7090f7"/>
<circle cx="857.2" cy="2309.68" r="9.2" fill="#6788f7"/>
<circle cx="726.8" cy="2345.19" r="2" fill="#7896f7"/>
<circle cx="706.5" cy="2380.7" r="10.2" fill="#6283f8"/>
<circle cx="703.1" cy="2416.21" r="8.4" fill="#6687f7"/>
<circle cx="686.6" cy="2451.72" r="1.7" fill="#a0b5f9"/>
<circle cx="682.5" cy="2487.23" r="11.8" fill="#8ca6f8"/>
</g>
<text x="1022.1" y="2068.1" font-size="24.7" text-anchor="middle">Count</text>
<g fill="#fff" stroke="#222" stroke-width="1.25">
<circle cx="1007.8" cy="2085.9" r="1.35"/>
<circle cx="1007.8" cy="2108.1" r="6"/>
<circle cx="1007.8" cy="2136.2" r="10.8"/>
<circle cx="1007.8" cy="2172.1" r="15.4"/>
</g>
<g font-size="20.3">
<text x="1029.3" y="2091.2">5</text>
<text x="1029.3" y="2113.4">20</text>
<text x="1029.3" y="2141.4">35</text>
<text x="1029.3" y="2176.8">50</text>
</g>
<text x="979.6" y="2228.9" font-size="24.5">-Log<tspan font-size="14" dx="2.2" dy="7.8" letter-spacing="-1.3">10</tspan><tspan dx="1.5" dy="-7.8">Q</tspan></text>
<text x="1022.3" y="2259.3" font-size="20.45" text-anchor="middle">6.42</text>
<rect x="1013.15" y="2264.8" width="18.3" height="238.95" rx="1.3" fill="url(#cb)" stroke="#000" stroke-opacity="0.62" stroke-width="1.2"/>
<text x="1022.3" y="2524.3" font-size="20.45" text-anchor="middle">0.22</text>
<g font-size="25" text-anchor="middle">
<text x="649.4" y="2556.4">−2</text>
<text x="715.32" y="2556.4">−1</text>
<text x="781.24" y="2556.4">0</text>
<text x="847.16" y="2556.4">1</text>
<text x="913.08" y="2556.4">2</text>
<text x="979" y="2556.4">3</text>
</g>
<text x="813.8" y="2587.2" font-size="28.8" text-anchor="middle">NES</text>
</g>
<g id="panel8">
<g stroke="#000" fill="none" stroke-linecap="butt">
<path d="M1592.6 1990.3V2522.7H1922.9" stroke-width="2"/>
<path d="M1592.6 2025.6h-9.0M1592.6 2061.11h-9.0M1592.6 2096.62h-9.0M1592.6 2132.13h-9.0M1592.6 2167.64h-9.0M1592.6 2203.15h-9.0M1592.6 2238.66h-9.0M1592.6 2274.17h-9.0M1592.6 2309.68h-9.0M1592.6 2345.19h-9.0M1592.6 2380.7h-9.0M1592.6 2416.21h-9.0M1592.6 2451.72h-9.0M1592.6 2487.23h-9.0M1592.6 2522.7v8.8M1658.48 2522.7v8.8M1724.36 2522.7v8.8M1790.24 2522.7v8.8M1856.12 2522.7v8.8M1922 2522.7v8.8M1625.54 2522.7v4.6M1691.42 2522.7v4.6M1757.3 2522.7v4.6M1823.18 2522.7v4.6M1889.06 2522.7v4.6" stroke-width="1.8"/>
</g>
<g font-size="27" text-anchor="end">
<text x="1576" y="2032">*** Biosynthesis of amino acids</text>
<text x="1576" y="2067.55">*** Protein processing in ER</text>
<text x="1576" y="2103.1">** Protein export</text>
<text x="1576" y="2138.65">** Arginine and proline metabolism</text>
<text x="1576" y="2174.2">** p53 signaling pathway</text>
<text x="1576" y="2209.75">** Focal adhesion</text>
<text x="1576" y="2245.3">PI3K-Akt signaling pathway</text>
<text x="1576" y="2280.85">Cellular senescence</text>
<text x="1576" y="2316.4">Regulation of actin cytoskeleton</text>
<text x="1576" y="2351.95">Nucleocytoplasmic transport</text>
<text x="1576" y="2387.5">GAG biosynthesis (heparin/HS)</text>
<text x="1576" y="2423.05">Wnt signaling pathway</text>
<text x="1576" y="2458.6">Calcium signaling pathway</text>
<text x="1576" y="2494.15">Glycosaminoglycan degradation</text>
</g>
<g stroke="#04082a" stroke-opacity="0.86" stroke-width="1.4">
<circle cx="1901.1" cy="2025.6" r="7.4" fill="#f875cc"/>
<circle cx="1861.9" cy="2061.11" r="16.7" fill="#f8c4e7"/>
<circle cx="1859.9" cy="2096.62" r="3" fill="#b6c7fa"/>
<circle cx="1853.4" cy="2132.13" r="4.6" fill="#bdcdfa"/>
<circle cx="1842.1" cy="2167.64" r="6.6" fill="#a3b8f9"/>
<circle cx="1834.1" cy="2203.15" r="10" fill="#b4c6fa"/>
<circle cx="1809.9" cy="2238.66" r="19" fill="#7d9af7"/>
<circle cx="1802.2" cy="2274.17" r="9.7" fill="#6e8ef7"/>
<circle cx="1799.6" cy="2309.68" r="12.8" fill="#6c8df7"/>
<circle cx="1796" cy="2345.19" r="7.1" fill="#6b8cf7"/>
<circle cx="1686.5" cy="2380.7" r="1.5" fill="#333333" stroke="none"/>
<circle cx="1649.1" cy="2416.21" r="7.6" fill="#6889f7"/>
<circle cx="1640.6" cy="2451.72" r="9.7" fill="#6e8ef7"/>
<circle cx="1622.9" cy="2487.23" r="3" fill="#7b99f7"/>
</g>
<text x="1965.6" y="2068.1" font-size="24.7" text-anchor="middle">Count</text>
<g fill="#fff" stroke="#222" stroke-width="1.25">
<circle cx="1951.3" cy="2085.9" r="1.35"/>
<circle cx="1951.3" cy="2108.1" r="6"/>
<circle cx="1951.3" cy="2136.2" r="10.8"/>
<circle cx="1951.3" cy="2172.1" r="15.4"/>
</g>
<g font-size="20.3">
<text x="1972.8" y="2091.2">5</text>
<text x="1972.8" y="2113.4">20</text>
<text x="1972.8" y="2141.4">35</text>
<text x="1972.8" y="2176.8">50</text>
</g>
<text x="1923.1" y="2228.9" font-size="24.5">-Log<tspan font-size="14" dx="2.2" dy="7.8" letter-spacing="-1.3">10</tspan><tspan dx="1.5" dy="-7.8">Q</tspan></text>
<text x="1965.8" y="2259.3" font-size="20.45" text-anchor="middle">7.92</text>
<rect x="1956.65" y="2264.8" width="18.3" height="238.95" rx="1.3" fill="url(#cb)" stroke="#000" stroke-opacity="0.62" stroke-width="1.2"/>
<text x="1965.8" y="2524.3" font-size="20.45" text-anchor="middle">0.10</text>
<g font-size="25" text-anchor="middle">
<text x="1592.6" y="2556.4">−2</text>
<text x="1658.48" y="2556.4">−1</text>
<text x="1724.36" y="2556.4">0</text>
<text x="1790.24" y="2556.4">1</text>
<text x="1856.12" y="2556.4">2</text>
<text x="1922" y="2556.4">3</text>
</g>
<text x="1756.9" y="2587.2" font-size="28.8" text-anchor="middle">NES</text>
</g>
</svg></body></html>
